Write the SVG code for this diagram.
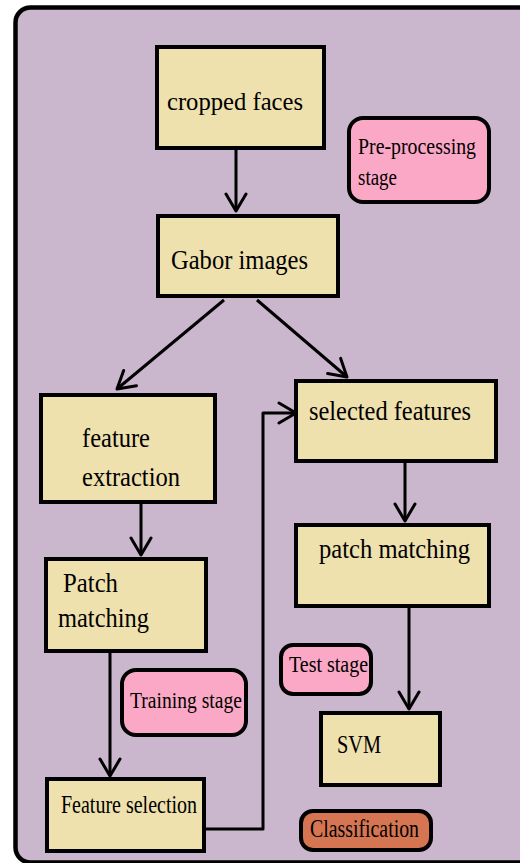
<svg xmlns="http://www.w3.org/2000/svg" width="520" height="863" viewBox="0 0 520 863">
<defs>
<style>
.bg{fill:#CAB6CD;stroke:#000;stroke-width:4.5}
.box{fill:#EEE1AE;stroke:#000;stroke-width:4}
.pink{fill:#FBA8C6;stroke:#000;stroke-width:4}
.orange{fill:#D57552;stroke:#000;stroke-width:4}
text{font-family:'Liberation Serif','Times New Roman','DejaVu Serif',serif;fill:#000}
.c{fill:none;stroke:#000;stroke-width:3;stroke-linejoin:round}
</style>
<marker id="ah" markerUnits="userSpaceOnUse" markerWidth="22" markerHeight="24" viewBox="0 0 22 24" refX="19" refY="12" orient="auto">
<path d="M2,2 L19,12 L2,22" fill="none" stroke="#000" stroke-width="3" stroke-linecap="round" stroke-linejoin="round"/>
</marker>
</defs>
<rect width="520" height="863" fill="#fff"/>
<rect class="bg" x="15.5" y="7.5" width="540" height="855" rx="15"/>

<g id="connectors">
<path class="c" d="M236,150 L236,211" marker-end="url(#ah)"/>
<path class="c" d="M224,300 L117,389" marker-end="url(#ah)"/>
<path class="c" d="M257,300 L347,377" marker-end="url(#ah)"/>
<path class="c" d="M405,463 L405,521" marker-end="url(#ah)"/>
<path class="c" d="M409,608 L409,709" marker-end="url(#ah)"/>
<path class="c" d="M141,504 L141,555" marker-end="url(#ah)"/>
<path class="c" d="M110,653 L110,776" marker-end="url(#ah)"/>
<path class="c" d="M206,829 L263,829 L263,413 L296,413" marker-end="url(#ah)"/>
</g>

<g id="cropped-faces">
<rect class="box" x="157" y="47" width="167" height="101"/>
<text x="167" y="110" font-family="Liberation Serif, serif" font-size="26" textLength="136" lengthAdjust="spacingAndGlyphs">cropped faces</text>
</g>
<g id="pre-processing-stage">
<rect class="pink" x="349" y="118" width="140" height="84" rx="14"/>
<text x="358" y="154" font-size="23" textLength="118" lengthAdjust="spacingAndGlyphs">Pre-processing</text>
<text x="358" y="185" font-size="23" textLength="39" lengthAdjust="spacingAndGlyphs">stage</text>
</g>
<g id="gabor-images">
<rect class="box" x="158" y="216" width="180" height="80"/>
<text x="171" y="269" font-size="28" textLength="137" lengthAdjust="spacingAndGlyphs">Gabor images</text>
</g>
<g id="feature-extraction">
<rect class="box" x="41" y="395" width="174" height="107"/>
<text x="82" y="447" font-size="27" textLength="68" lengthAdjust="spacingAndGlyphs">feature</text>
<text x="82" y="486" font-size="27" textLength="98" lengthAdjust="spacingAndGlyphs">extraction</text>
</g>
<g id="selected-features">
<rect class="box" x="296" y="381" width="200" height="80"/>
<text x="309" y="420" font-size="27" textLength="162" lengthAdjust="spacingAndGlyphs">selected features</text>
</g>
<g id="patch-matching-test">
<rect class="box" x="296" y="525" width="193" height="81"/>
<text x="319" y="558" font-size="27" textLength="151" lengthAdjust="spacingAndGlyphs">patch matching</text>
</g>
<g id="patch-matching-train">
<rect class="box" x="46" y="559" width="160" height="92"/>
<text x="63" y="592" font-size="27" textLength="55" lengthAdjust="spacingAndGlyphs">Patch</text>
<text x="58" y="627" font-size="27" textLength="91" lengthAdjust="spacingAndGlyphs">matching</text>
</g>
<g id="test-stage">
<rect class="pink" x="281" y="645" width="90" height="49" rx="12"/>
<text x="289" y="672" font-size="24" textLength="79" lengthAdjust="spacingAndGlyphs">Test stage</text>
</g>
<g id="training-stage">
<rect class="pink" x="122" y="670" width="124" height="65" rx="14"/>
<text x="130" y="708" font-size="24" textLength="112" lengthAdjust="spacingAndGlyphs">Training stage</text>
</g>
<g id="svm">
<rect class="box" x="321" y="713" width="119" height="72"/>
<text x="337" y="753" font-size="26" textLength="44" lengthAdjust="spacingAndGlyphs">SVM</text>
</g>
<g id="feature-selection">
<rect class="box" x="47" y="779" width="157" height="72"/>
<text x="61" y="813" font-size="25" textLength="136" lengthAdjust="spacingAndGlyphs">Feature selection</text>
</g>
<g id="classification">
<rect class="orange" x="301" y="811" width="130" height="39" rx="12"/>
<text x="310" y="837" font-size="25" textLength="109" lengthAdjust="spacingAndGlyphs">Classification</text>
</g>
</svg>
